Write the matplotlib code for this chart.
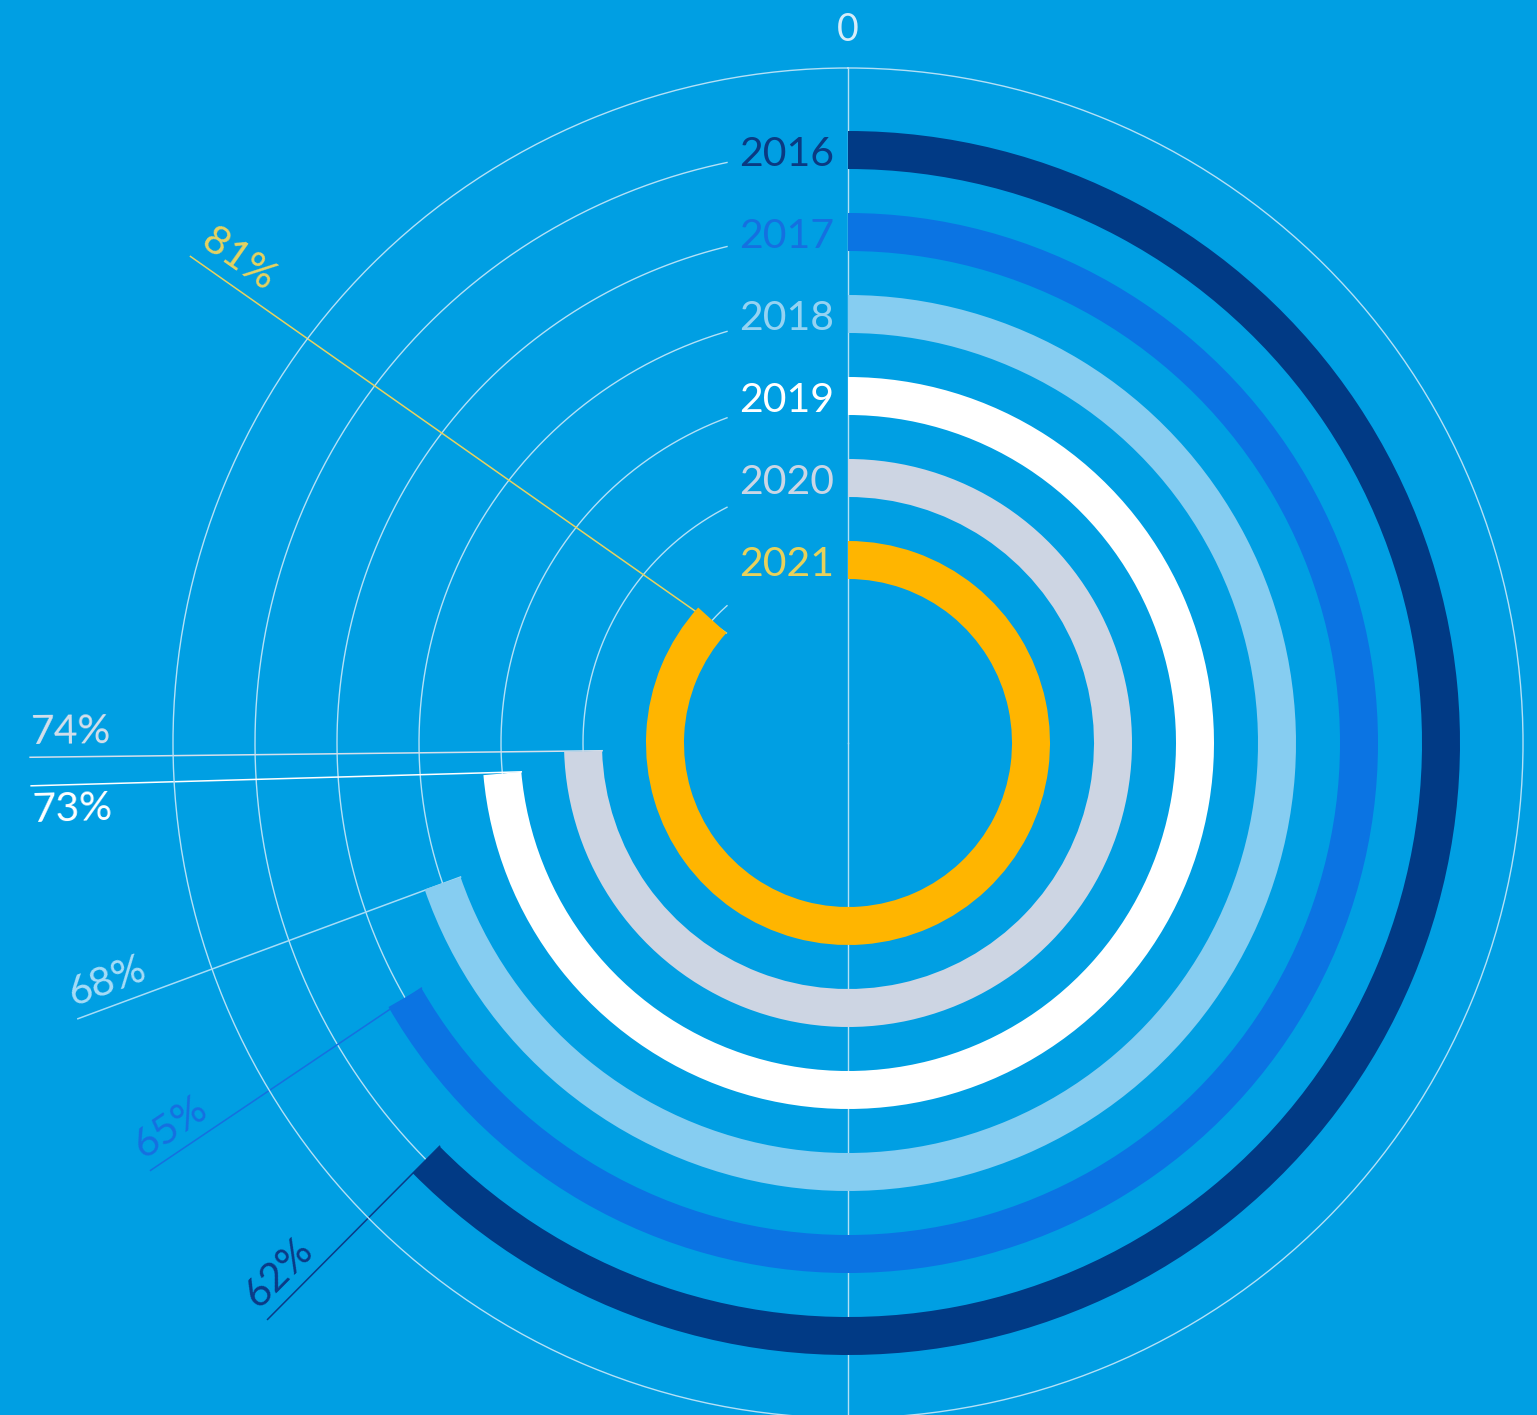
import numpy as np
import matplotlib
matplotlib.use("Agg")
import matplotlib.pyplot as plt

# data, outer ring first
years = ["2016", "2017", "2018", "2019", "2020", "2021"]
share = [62, 65, 68, 73, 74, 81]                  # printed labels
arc_share = [62.6, 66.7, 69.7, 73.6, 74.5, 86.7]  # arc extent as drawn in the reference

bar_colors = ["#013a85", "#0b74e3", "#86cdf1", "#ffffff", "#cdd5e3", "#ffb500"]
year_colors = ["#0a3a82", "#1570e0", "#95d3f2", "#ffffff", "#cbd6e5", "#e7d15b"]
pct_colors = ["#0b3a86", "#1670e0", "#a6dcf7", "#ffffff", "#d4dfeb", "#e6d260"]
label_theta = [225.2, 238.5, 250.3, 267.0, 269.0, 306.5]  # far end of leader lines
label_side = [1, 1, 1, -1, 1, 1]

bg = "#009fe3"
grid_c = "#b3e0f6"
W, H = 1537, 1415
cx, cy = 848, 743          # centre in pixels (from top)
R = 675                    # outer circle
ring_r = [593 - 82 * i for i in range(len(years))]
ring_w = 38
gap_x = 121                # tracks stop this far left of the zero line
label_r = 818

FONT = ["Lato", "DejaVu Sans"]


def to_polar(x, y):
    # x right, y up (pixels from centre) -> theta clockwise from north, r
    return np.arctan2(x, y), np.hypot(x, y)


def to_xy(theta, r):
    return r * np.sin(theta), r * np.cos(theta)


fig = plt.figure(figsize=(W / 100, H / 100), dpi=100, facecolor=bg)
ax = fig.add_axes([(cx - R) / W, (H - cy - R) / H, 2 * R / W, 2 * R / H],
                  projection="polar")
ax.set_theta_zero_location("N")
ax.set_theta_direction(-1)
ax.set_ylim(0, R)
ax.patch.set_alpha(0)
ax.grid(False)
ax.set_xticks([])
ax.set_yticks([])
ax.spines["polar"].set_color(grid_c)
ax.spines["polar"].set_linewidth(1.0)

# zero line
ax.plot([0, 0], [0, R], color=grid_c, lw=1.0, zorder=1)
ax.plot([np.pi, np.pi], [0, R], color=grid_c, lw=1.0, zorder=1)
ax.text(0, 713, "0", ha="center", va="center", fontsize=27, color="#d6ecf9",
        family=FONT)

for i, yr in enumerate(years):
    r = ring_r[i]
    ext = np.deg2rad(arc_share[i] * 3.6)

    # remaining track up to the year label
    t_end = 2 * np.pi - np.arcsin(gap_x / r)
    t = np.linspace(ext, t_end, 200)
    ax.plot(t, np.full_like(t, r), color=grid_c, lw=1.0, zorder=1)

    ax.bar(ext / 2, ring_w, width=ext, bottom=r - ring_w / 2,
           color=bar_colors[i], edgecolor="none", zorder=3)

    # year label, right aligned left of the zero line
    th, rr = to_polar(-14, r - 5)
    ax.text(th, rr, yr, ha="right", va="center", fontsize=29.5,
            color=year_colors[i], family=FONT, zorder=5)

    # leader line from bar end out to the percentage
    th_far = np.deg2rad(label_theta[i])
    sx, sy = to_xy(ext, r - ring_w / 2)
    px, py = to_xy(th_far, label_r)
    ax.plot([ext, th_far], [r - ring_w / 2, label_r], color=pct_colors[i],
            lw=1.1, zorder=2, clip_on=False)

    u = np.array([sx - px, sy - py])
    u /= np.linalg.norm(u)
    n = np.array([-u[1], u[0]])
    tx, ty = np.array([px, py]) + 41 * u + label_side[i] * 25 * n
    th, rr = to_polar(tx, ty)
    ax.text(th, rr, f"{share[i]}%", ha="center", va="center", fontsize=29.5,
            rotation=np.degrees(np.arctan2(u[1], u[0])), rotation_mode="anchor",
            color=pct_colors[i], family=FONT, clip_on=False, zorder=5)

fig.savefig("out.png", dpi=100, facecolor=bg)
